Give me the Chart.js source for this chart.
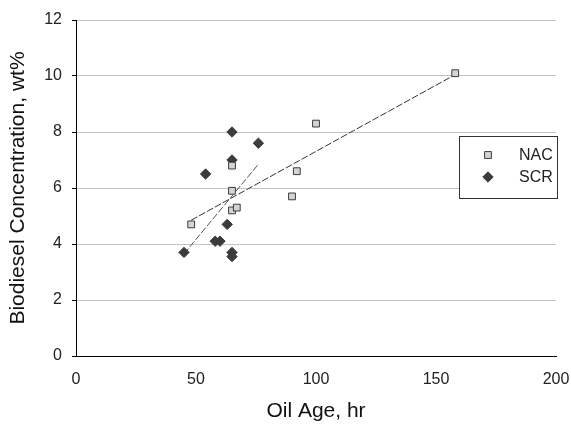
<!DOCTYPE html>
<html>
<head>
<meta charset="utf-8">
<script src="https://cdn.jsdelivr.net/npm/chart.js@4.4.1/dist/chart.umd.min.js"></script>
<style>
  html, body { margin: 0; padding: 0; background: #fff; }
  #wrap { width: 571px; height: 428px; position: relative; }
</style>
</head>
<body>
<div id="wrap"><canvas id="chart" width="571" height="428"></canvas></div>
<script>
// values
const NAC_X = [48, 65, 65, 65, 67, 90, 92, 100, 158];
const NAC_Y = [4.7, 6.8, 5.9, 5.2, 5.3, 5.7, 6.6, 8.3, 10.1];
const SCR_X = [65, 76, 65, 54, 63, 58, 60, 45, 65, 65];
const SCR_Y = [8.0, 7.6, 7.0, 6.5, 4.7, 4.1, 4.1, 3.7, 3.7, 3.55];

// trend line end points (x, y)
const NAC_TREND_X = [48, 158];
const NAC_TREND_Y = [4.85, 10.05];
const SCR_TREND_X = [45, 76];
const SCR_TREND_Y = [3.65, 6.85];

const X_TICKS = [0, 50, 100, 150, 200];
const Y_TICKS = [0, 2, 4, 6, 8, 10, 12];

const FONT = '"Liberation Sans", Arial, sans-serif';

const toPts = (xs, ys) => xs.map((x, i) => ({ x: x, y: ys[i] }));

// legend box drawn inside the plot
const boxLegend = {
  id: 'boxLegend',
  afterDraw(chart) {
    const ctx = chart.ctx;
    const bx = 459, by = 136, bw = 98, bh = 62;
    ctx.save();
    ctx.fillStyle = '#fff';
    ctx.fillRect(bx, by, bw, bh);
    ctx.strokeStyle = '#333';
    ctx.lineWidth = 1;
    ctx.strokeRect(bx + 0.5, by + 0.5, bw, bh);
    const items = [
      { label: 'NAC', ds: chart.data.datasets[0], y: by + 19 },
      { label: 'SCR', ds: chart.data.datasets[1], y: by + 41 }
    ];
    items.forEach(it => {
      ctx.fillStyle = it.ds.backgroundColor;
      ctx.strokeStyle = it.ds.borderColor;
      ctx.lineWidth = 1;
      Chart.helpers.drawPoint(ctx, { pointStyle: it.ds.pointStyle, radius: it.ds.pointRadius, borderWidth: 1 }, bx + 29, it.y);
      ctx.fillStyle = '#222';
      ctx.font = '16px ' + FONT;
      ctx.textBaseline = 'middle';
      ctx.fillText(it.label, bx + 60, it.y + 1);
    });
    ctx.restore();
  }
};

new Chart(document.getElementById('chart').getContext('2d'), {
  type: 'scatter',
  data: {
    datasets: [
      { label: 'NAC', data: toPts(NAC_X, NAC_Y), pointStyle: 'rect', pointRadius: 4.8,
        backgroundColor: '#d4d4d4', borderColor: '#3a3a3a', borderWidth: 1 },
      { label: 'SCR', data: toPts(SCR_X, SCR_Y), pointStyle: 'rectRot', pointRadius: 5.2,
        backgroundColor: '#3c3c3c', borderColor: '#3c3c3c', borderWidth: 1 },
      { label: 'NAC trend', data: toPts(NAC_TREND_X, NAC_TREND_Y), showLine: true, pointRadius: 0,
        borderColor: '#333', borderWidth: 1, borderDash: [7, 2], fill: false },
      { label: 'SCR trend', data: toPts(SCR_TREND_X, SCR_TREND_Y), showLine: true, pointRadius: 0,
        borderColor: '#555', borderWidth: 1, borderDash: [7, 2], fill: false }
    ]
  },
  options: {
    responsive: false,
    animation: false,
    layout: { padding: { left: 0, right: 15, top: 20, bottom: 0 } },
    plugins: { legend: { display: false }, tooltip: { enabled: false } },
    scales: {
      x: {
        type: 'linear', min: 0, max: 200,
        afterBuildTicks: s => { s.ticks = X_TICKS.map(v => ({ value: v })); },
        // keep the plot wide: the "200" label may run off the right edge like the original
        afterFit: s => { s.height = 72; s.paddingRight = 0; s.paddingLeft = 0; },
        grid: { display: false, drawOnChartArea: false, drawTicks: true, tickLength: 5, tickColor: '#000' },
        border: { color: '#000', width: 1 },
        ticks: { color: '#222', font: { family: FONT, size: 16 }, padding: 9, maxRotation: 0 },
        title: { display: true, text: 'Oil Age, hr', color: '#111', font: { family: FONT, size: 21 }, padding: { top: 4, bottom: 4 } }
      },
      y: {
        type: 'linear', min: 0, max: 12,
        afterBuildTicks: s => { s.ticks = Y_TICKS.map(v => ({ value: v })); },
        afterFit: s => { s.width = 76; },
        grid: { color: '#c4c4c4', lineWidth: 1, drawTicks: true, tickLength: 4, tickColor: '#000' },
        border: { color: '#000', width: 1 },
        ticks: { color: '#222', font: { family: FONT, size: 16 }, padding: 10 },
        title: { display: true, text: 'Biodiesel Concentration, wt%', color: '#111', font: { family: FONT, size: 21 }, padding: { top: 6, bottom: 6 } }
      }
    }
  },
  plugins: [boxLegend]
});
</script>
</body>
</html>
